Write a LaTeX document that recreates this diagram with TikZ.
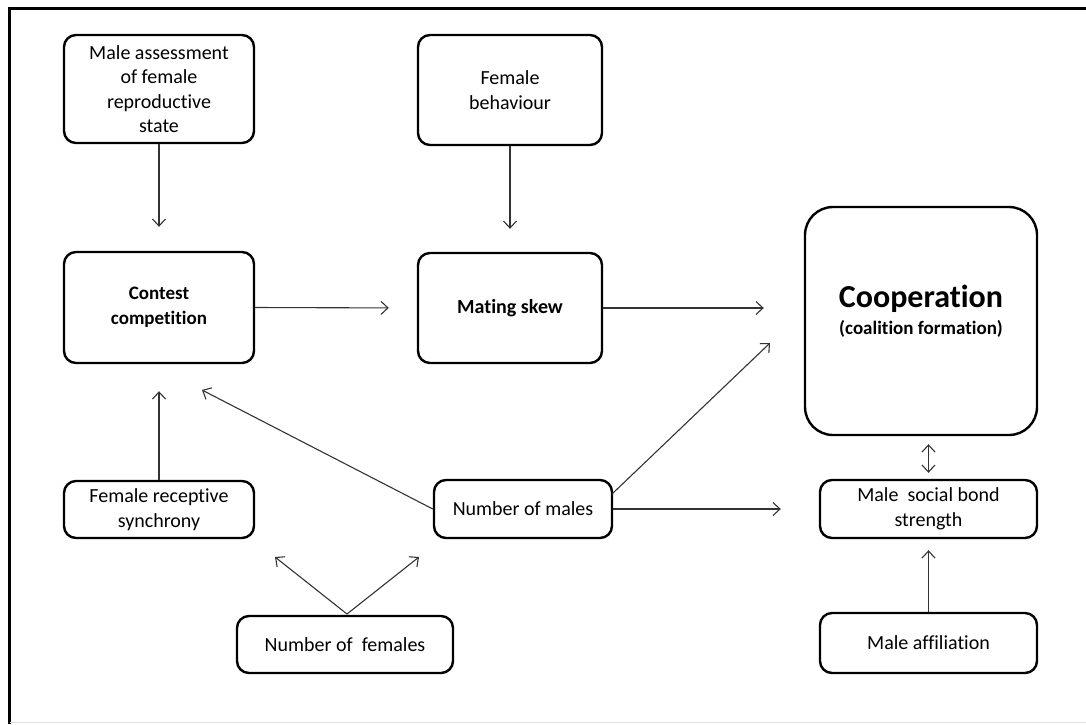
\documentclass[tikz,border=0pt]{standalone}
\usepackage{fontspec}
\setmainfont{Carlito}[Ligatures={NoCommon,NoRequired,NoContextual}]
\usetikzlibrary{arrows.meta}
\begin{document}
\begin{tikzpicture}[x=1pt,y=-1pt,
  box/.style={draw, line width=2.4pt, rounded corners=12pt, align=center,
    inner sep=0pt, font=\fontsize{20}{24.5}\selectfont},
  boldbox/.style={box, font=\fontsize{19}{25}\selectfont\bfseries},
  arr/.style={draw=black!80, line width=1.1pt, -{Straight Barb[length=7pt,width=13pt]}},
  darr/.style={draw=black!80, line width=1.1pt, {Straight Barb[length=7pt,width=13pt]}-{Straight Barb[length=7pt,width=13pt]}}
]
\useasboundingbox (0,0) rectangle (1086,724);
% frame
\draw[line width=3pt] (9.5,724) -- (9.5,8) -- (1086,8);
\draw[black!12, line width=1pt] (9.5,722.5) -- (1086,722.5);

% nodes
\node[box, minimum width=190pt, minimum height=108pt] (ma) at (159,89)
  {Male assessment\\of female\\reproductive\\state};
\node[box, minimum width=184pt, minimum height=110pt] (fb) at (510,90)
  {Female\\behaviour};
\node[boldbox, minimum width=190pt, minimum height=111pt] (cc) at (159,307.5)
  {Contest\\competition};
\node[boldbox, font=\fontsize{20}{24}\selectfont\bfseries, minimum width=184pt, minimum height=110pt] (ms) at (510,308)
  {Mating skew};
\node[box, rounded corners=28pt, minimum width=232pt, minimum height=228pt] (co) at (921,321) {};
\node[align=center, inner sep=0pt] (cotxt) at (921,311)
  {\fontsize{32}{34}\selectfont\bfseries Cooperation\\[7pt]
   \fontsize{19}{22}\selectfont\bfseries (coalition formation)};
\node[box, minimum width=190pt, minimum height=57pt] (frs) at (159,509.5)
  {Female receptive\\synchrony};
\node[box, minimum width=178pt, minimum height=58pt] (nm) at (523,509)
  {Number of males};
\node[box, minimum width=217pt, minimum height=58pt] (msb) at (928.5,509)
  {Male\ \ social bond\\strength};
\node[box, minimum width=216pt, minimum height=57pt] (nf) at (345,644.5)
  {Number of\ \ females};
\node[box, minimum width=217pt, minimum height=60pt] (maff) at (928.5,643)
  {Male affiliation};

% tip coordinates for free ends
\coordinate (tcc) at (202,390);
\coordinate (nmup) at (612,494);
\coordinate (tco) at (770,343);
\coordinate (nftop) at (347,614);
\coordinate (tfrs) at (275,557);
\coordinate (tnm) at (419,557);

% connectors
\draw[arr, shorten >=24pt] (ma.south) -- (cc.north);
\draw[arr, shorten >=23pt] (fb.south) -- (ms.north);
\draw[arr, shorten >=28pt] (cc.east) -- (ms.west);
\draw[arr, shorten >=40pt] (ms.east) -- (ms.east -| co.west);
\draw[arr] (nm.west) -- (tcc);
\draw[arr] (nmup) -- (tco);
\draw[arr, shorten >=38pt] (nm.east) -- (msb.west);
\draw[arr, shorten >=27pt] (frs.north) -- (cc.south);
\draw[arr] (nftop) -- (tfrs);
\draw[arr] (nftop) -- (tnm);
\draw[darr, shorten <=8pt, shorten >=6pt] (co.south -| msb.north) -- (msb.north);
\draw[arr, shorten >=11pt] (maff.north) -- (msb.south);
\end{tikzpicture}
\end{document}
